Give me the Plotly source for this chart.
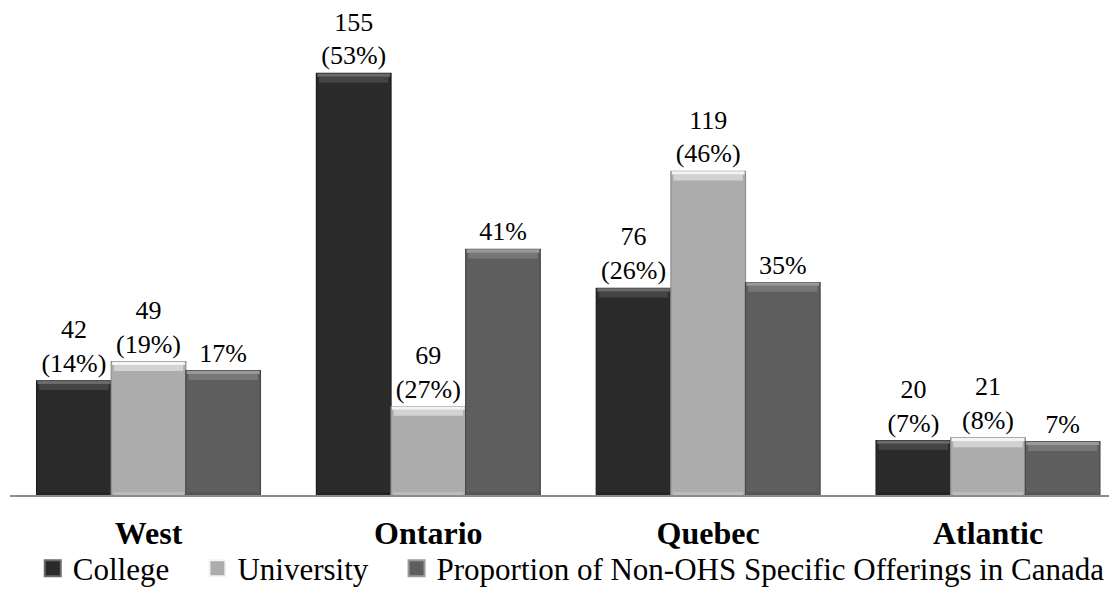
import plotly.graph_objects as go

# ---------------- data ----------------
regions = ["West", "Ontario", "Quebec", "Atlantic"]
series_names = ["College", "University", "Proportion of Non-OHS Specific Offerings in Canada"]

# bar heights as drawn in the picture (value axis units)
college_heights = [42, 155, 76, 20]
university_heights = [49, 32.5, 119, 21]
proportion_heights = [45.7, 90.3, 78.1, 19.6]

# labels shown above bars
college_labels = ["42<br>(14%)", "155<br>(53%)", "76<br>(26%)", "20<br>(7%)"]
university_labels = ["49<br>(19%)", "69<br>(27%)", "119<br>(46%)", "21<br>(8%)"]
proportion_labels = ["17%", "41%", "35%", "7%"]

colors = ["#2a2a2a", "#acacac", "#5e5e5e"]
top_hi = ["#6a6a6a", "#f4f4f4", "#9a9a9a"]
top_mid = ["#444444", "#d2d2d2", "#777777"]
bottom_colors = ["#222222", "#bdbdbd", "#555555"]
side_colors = ["#1c1c1c", "#909090", "#474747"]

FONT = "Liberation Serif"

heights = [college_heights, university_heights, proportion_heights]
labels = [college_labels, university_labels, proportion_labels]
legend_names = ["College\u00a0\u00a0\u00a0", "University\u00a0\u00a0\u00a0", series_names[2]]

x = list(range(len(regions)))
width = 0.8 / 3
offsets = [-0.4, -0.4 + width, -0.4 + 2 * width]

fig = go.Figure()
for i, name in enumerate(series_names):
    fig.add_trace(go.Bar(
        x=x, y=heights[i], name=name, width=width, offset=offsets[i],
        marker=dict(color=colors[i], line=dict(color=side_colors[i], width=1.2)),
        text=labels[i], textposition="outside", cliponaxis=False,
        textfont=dict(family=FONT, size=26, color="#000000"),
        showlegend=False, hoverinfo="skip",
    ))
    # bevel strips: (depth from top, thickness, width factor, color)
    for depth, thick, wf, col in [(3.4, 2.2, 0.93, top_mid[i]), (1.2, 1.2, 0.975, top_hi[i])]:
        fig.add_trace(go.Bar(
            x=x, y=[thick] * len(x), base=[h - depth for h in heights[i]],
            width=width * wf, offset=offsets[i] + width * (1 - wf) / 2,
            marker=dict(color=col, line=dict(width=0)),
            showlegend=False, hoverinfo="skip",
        ))
    # bottom bevel
    fig.add_trace(go.Bar(
        x=x, y=[1.0] * len(x), base=[0] * len(x),
        width=width * 0.94, offset=offsets[i] + width * 0.03,
        marker=dict(color=bottom_colors[i], line=dict(width=0)),
        showlegend=False, hoverinfo="skip",
    ))
    # legend entry
    fig.add_trace(go.Scatter(
        x=[None], y=[None], mode="markers", name=legend_names[i],
        marker=dict(symbol="square", size=16, color=colors[i],
                    line=dict(color=top_hi[i], width=2)),
        showlegend=True,
    ))

fig.update_layout(
    width=1117, height=606,
    barmode="overlay",
    plot_bgcolor="white", paper_bgcolor="white",
    margin=dict(l=2, r=8, t=2, b=119),
    font=dict(family=FONT, color="#000000"),
    xaxis=dict(
        range=[-0.495, 3.461],
        tickvals=x, ticktext=[f"<b>{r}</b>" for r in regions],
        tickfont=dict(family=FONT, size=32, color="#000000"),
        ticklabelstandoff=9,
        showline=True, linecolor="#8c8c8c", linewidth=1.5,
        showgrid=False, zeroline=False, ticks="",
    ),
    yaxis=dict(range=[0, 178.3], visible=False, showgrid=False, zeroline=False),
    legend=dict(
        orientation="h", x=0.507, xanchor="center", y=-0.152, yanchor="middle",
        font=dict(family=FONT, size=31, color="#000000"),
        bgcolor="rgba(0,0,0,0)",
        itemsizing="trace", tracegroupgap=0,
    ),
)

fig.write_html("out.html")
